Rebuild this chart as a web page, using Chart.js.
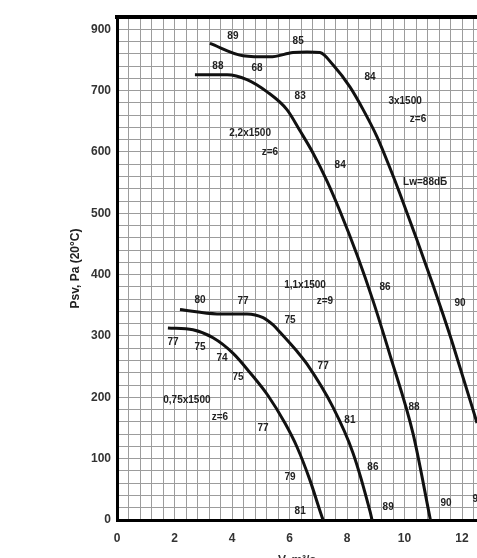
<!DOCTYPE html>
<html>
<head>
<meta charset="utf-8">
<script src="https://cdn.jsdelivr.net/npm/chart.js@4.4.0/dist/chart.umd.min.js"></script>
<style>
  body { margin: 0; background: #fff; }
  #wrap { width: 477px; height: 558px; }
</style>
</head>
<body>
<div id="wrap"><canvas id="fanChart"></canvas></div>
<script>
// curves: x = flow, y = Psv (Pa)
const curve1X = [3.23, 4.38, 5.32, 6.12, 6.61, 7.06, 7.51, 8.10, 8.56, 9.04, 9.50, 9.84, 10.43, 10.99, 11.34, 11.69, 12.38, 12.52];
const curve1Y = [777, 757, 755, 762, 763, 762, 742, 706, 669, 625, 573, 532, 457, 383, 335, 285, 180, 158];

const curve2X = [2.71, 3.83, 4.52, 5.22, 5.91, 6.37, 6.82, 7.30, 7.76, 8.35, 8.90, 9.50, 10.30, 10.90];
const curve2Y = [726, 726, 718, 698, 669, 634, 598, 553, 503, 432, 358, 268, 140, 0];

const curve3X = [2.19, 3.48, 4.52, 5.08, 5.43, 5.67, 6.26, 6.61, 7.51, 8.21, 8.80, 8.87];
const curve3Y = [343, 336, 336, 330, 318, 306, 275, 254, 184, 109, 14, 0];

const curve4X = [1.77, 2.64, 3.34, 4.03, 4.63, 5.25, 5.84, 6.26, 6.71, 7.13, 7.17];
const curve4Y = [313, 310, 297, 272, 240, 203, 158, 119, 65, 5, 0];

// tick labels
const xTickLabels = ["0", "2", "4", "6", "8", "10", "12"];
const yTickLabels = ["0", "100", "200", "300", "400", "500", "600", "700", "900"];

// annotations on the curves
const noteText = ["89", "85", "88", "68", "84", "3x1500", "z=6", "90",
  "83", "2,2x1500", "z=6", "84", "86", "88", "90", "90",
  "80", "77", "1,1x1500", "z=9", "75", "77", "81", "86", "89",
  "77", "75", "74", "75", "0,75x1500", "z=6", "77", "79", "81"];
const noteX = [4.03, 6.30, 3.51, 4.87, 8.80, 10.02, 10.47, 11.93,
  6.37, 4.63, 5.32, 7.76, 9.32, 10.33, 11.44, 12.56,
  2.89, 4.38, 6.54, 7.23, 6.02, 7.17, 8.10, 8.90, 9.43,
  1.95, 2.89, 3.65, 4.21, 2.43, 3.58, 5.08, 6.02, 6.37];
const noteY = [788, 781, 739, 737, 721, 682, 653, 354,
  690, 631, 600, 579, 380, 184, 28, 34,
  359, 356, 383, 356, 326, 250, 163, 86, 21,
  290, 281, 264, 232, 196, 168, 150, 70, 15];
const lwText = "Lw=88dБ";
const lwX = 9.95;
const lwY = 551;

const xMax = 12.52;
const yMax = 820;

function pts(xs, ys) {
  return xs.map((x, i) => ({ x: x, y: ys[i] }));
}

function curve(label, xs, ys) {
  return {
    label: label,
    data: pts(xs, ys),
    borderColor: "#111",
    borderWidth: 3,
    pointRadius: 0,
    cubicInterpolationMode: "monotone",
    fill: false,
  };
}

const notesPlugin = {
  id: "notes",
  afterDatasetsDraw(chart) {
    const ctx = chart.ctx;
    const xs = chart.scales.x;
    const ys = chart.scales.y;
    const area = chart.chartArea;
    ctx.save();
    // thick top frame
    ctx.strokeStyle = "#000";
    ctx.lineWidth = 4;
    ctx.beginPath();
    ctx.moveTo(area.left - 2, area.top);
    ctx.lineTo(area.right, area.top);
    ctx.stroke();

    ctx.fillStyle = "#222";
    ctx.font = "bold 10px 'Liberation Sans', Arial, sans-serif";
    ctx.textAlign = "center";
    ctx.textBaseline = "middle";
    noteText.forEach((t, i) => {
      ctx.fillText(t, xs.getPixelForValue(noteX[i]), ys.getPixelForValue(noteY[i]));
    });
    ctx.textAlign = "left";
    ctx.fillText(lwText, xs.getPixelForValue(lwX), ys.getPixelForValue(lwY));
    ctx.restore();
  },
};

function stepTicks(scale, step) {
  const ticks = [];
  for (let v = scale.min; v <= scale.max + 1e-9; v += step) {
    ticks.push({ value: Math.round(v * 100) / 100 });
  }
  scale.ticks = ticks;
}

const config = {
  type: "line",
  data: {
    datasets: [
      curve("3x1500", curve1X, curve1Y),
      curve("2,2x1500", curve2X, curve2Y),
      curve("1,1x1500", curve3X, curve3Y),
      curve("0,75x1500", curve4X, curve4Y),
    ],
  },
  options: {
    responsive: true,
    maintainAspectRatio: false,
    animation: false,
    layout: { padding: { top: 17, right: 0, left: 0, bottom: 0 } },
    plugins: {
      legend: { display: false },
      tooltip: { enabled: false },
    },
    scales: {
      x: {
        type: "linear",
        min: 0,
        max: xMax,
        afterBuildTicks: (scale) => stepTicks(scale, 0.4),
        afterFit: (scale) => {
          scale.height = 38;
          scale.paddingLeft = 0;
          scale.paddingRight = 0;
        },
        grid: { color: "#9c9c9c", lineWidth: 1, drawTicks: false },
        border: { display: true, color: "#000", width: 3 },
        ticks: {
          autoSkip: false,
          maxRotation: 0,
          padding: 11,
          color: "#333",
          font: { family: "'Liberation Sans', Arial, sans-serif", size: 12, weight: "bold" },
          callback: function (v) {
            const k = v / 2;
            if (Math.abs(k - Math.round(k)) < 1e-6) return xTickLabels[Math.round(k)];
            return "";
          },
        },
        title: {
          display: true,
          text: "V, m³/s",
          color: "#333",
          padding: { top: 0, bottom: -10 },
          font: { family: "'Liberation Sans', Arial, sans-serif", size: 12, weight: "bold" },
        },
      },
      y: {
        min: 0,
        max: yMax,
        afterBuildTicks: (scale) => stepTicks(scale, 20),
        afterFit: (scale) => { scale.width = 117; },
        grid: { color: "#9c9c9c", lineWidth: 1, drawTicks: false },
        border: { display: true, color: "#000", width: 3 },
        ticks: {
          autoSkip: false,
          padding: 6,
          color: "#333",
          font: { family: "'Liberation Sans', Arial, sans-serif", size: 12, weight: "bold" },
          callback: function (v) {
            if (v % 100 === 0) return yTickLabels[v / 100];
            return "";
          },
        },
        title: {
          display: true,
          text: "Psv, Pa (20°C)",
          color: "#222",
          padding: { top: 68, bottom: 0 },
          font: { family: "'Liberation Sans', Arial, sans-serif", size: 12, weight: "bold" },
        },
      },
    },
  },
  plugins: [notesPlugin],
};

const fanChart = new Chart(document.getElementById("fanChart"), config);
</script>
</body>
</html>
